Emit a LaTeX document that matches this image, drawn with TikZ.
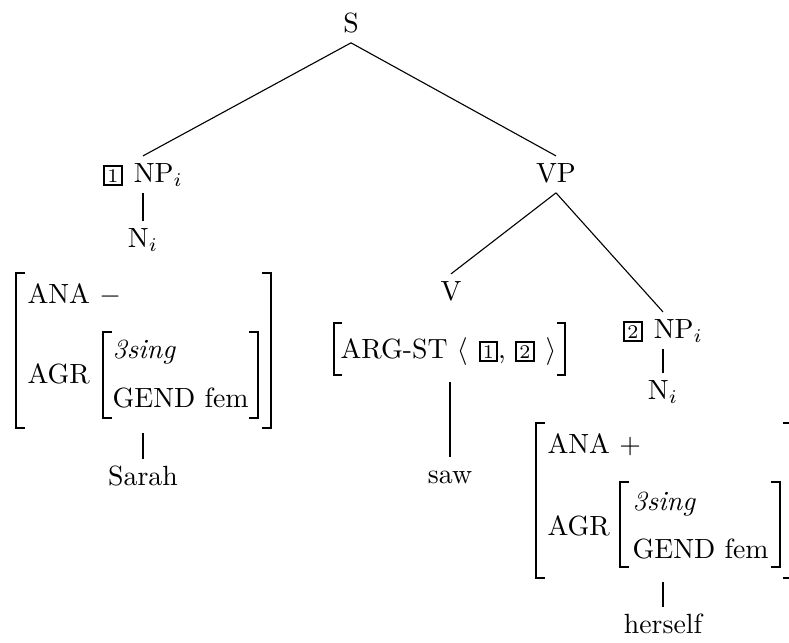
\documentclass[tikz,border=0pt]{standalone}
\newcommand{\tagbox}[1]{{\setlength{\fboxsep}{0.8pt}\setlength{\fboxrule}{0.7pt}\fbox{\scriptsize #1}}}
\begin{document}
\begin{tikzpicture}[x=0.36pt,y=-0.36pt]
\tikzstyle{cat}=[anchor=base,inner sep=2.2pt,text height=7pt,text depth=1.5pt]
\tikzstyle{feat}=[anchor=base west,inner sep=0pt]
\tikzstyle{brk}=[line width=0.6pt]
\useasboundingbox (0,0) rectangle (789,642);
% tree labels
\draw (351,32) node[cat] (s) {S};
\draw (143,182) node[cat] (np1) {\tagbox{1}\hspace{4pt}NP$_i$};
\draw (556,182) node[cat] (vp) {VP};
\draw (143,247) node[cat] (n1) {N$_i$};
\draw (451,300) node[cat] (v) {V};
\draw (663,338) node[cat] (np2) {\tagbox{2}\hspace{4pt}NP$_i$};
\draw (663,399) node[cat] (n2) {N$_i$};
\draw (143,485) node[cat] (sarah) {Sarah};
\draw (450,483) node[cat] (saw) {saw};
\draw (663,633) node[cat] (herself) {herself};
% left AVM
\draw[brk] (25,273) -- (16,273) -- (16,428) -- (25,428);
\draw[brk] (262,273) -- (271,273) -- (271,428) -- (262,428);
\draw[brk] (112,332) -- (103,332) -- (103,418) -- (112,418);
\draw[brk] (249,332) -- (258,332) -- (258,418) -- (249,418);
\draw (27,303) node[feat] (ana1) {ANA $-$};
\draw (27,383) node[feat] (agr1) {AGR};
\draw (112,358) node[feat] (per1) {\textit{3sing}};
\draw (112,407) node[feat] (gend1) {GEND fem};
\coordinate (avm1) at (143,433);
% ARG-ST AVM
\draw[brk] (342,323) -- (334,323) -- (334,375) -- (342,375);
\draw[brk] (557,323) -- (565,323) -- (565,375) -- (557,375);
\draw (340,358) node[feat] (argst) {ARG-ST\ $\langle$\hspace{4pt}\tagbox{1}, \tagbox{2}\hspace{4pt}$\rangle$};
\coordinate (avm2) at (450,382);
% right AVM
\draw[brk] (545,423) -- (536,423) -- (536,578) -- (545,578);
\draw[brk] (783,423) -- (792,423) -- (792,578) -- (783,578);
\draw[brk] (629,482) -- (620,482) -- (620,567) -- (629,567);
\draw[brk] (771,482) -- (780,482) -- (780,567) -- (771,567);
\draw (547,453) node[feat] (ana2) {ANA $+$};
\draw (547,535) node[feat] (agr2) {AGR};
\draw (632,510) node[feat] (per2) {\textit{3sing}};
\draw (632,558) node[feat] (gend2) {GEND fem};
\coordinate (avm3) at (663,582);
% branches
\draw (s.south) -- (np1.north);
\draw (s.south) -- (vp.north);
\draw (np1.south) -- (n1.north);
\draw (vp.south) -- (v.north);
\draw (vp.south) -- (np2.north);
\draw (np2.south) -- (n2.north);
\draw (avm1) -- (sarah.north);
\draw (avm2) -- (saw.north);
\draw (avm3) -- (herself.north);
\end{tikzpicture}
\end{document}
